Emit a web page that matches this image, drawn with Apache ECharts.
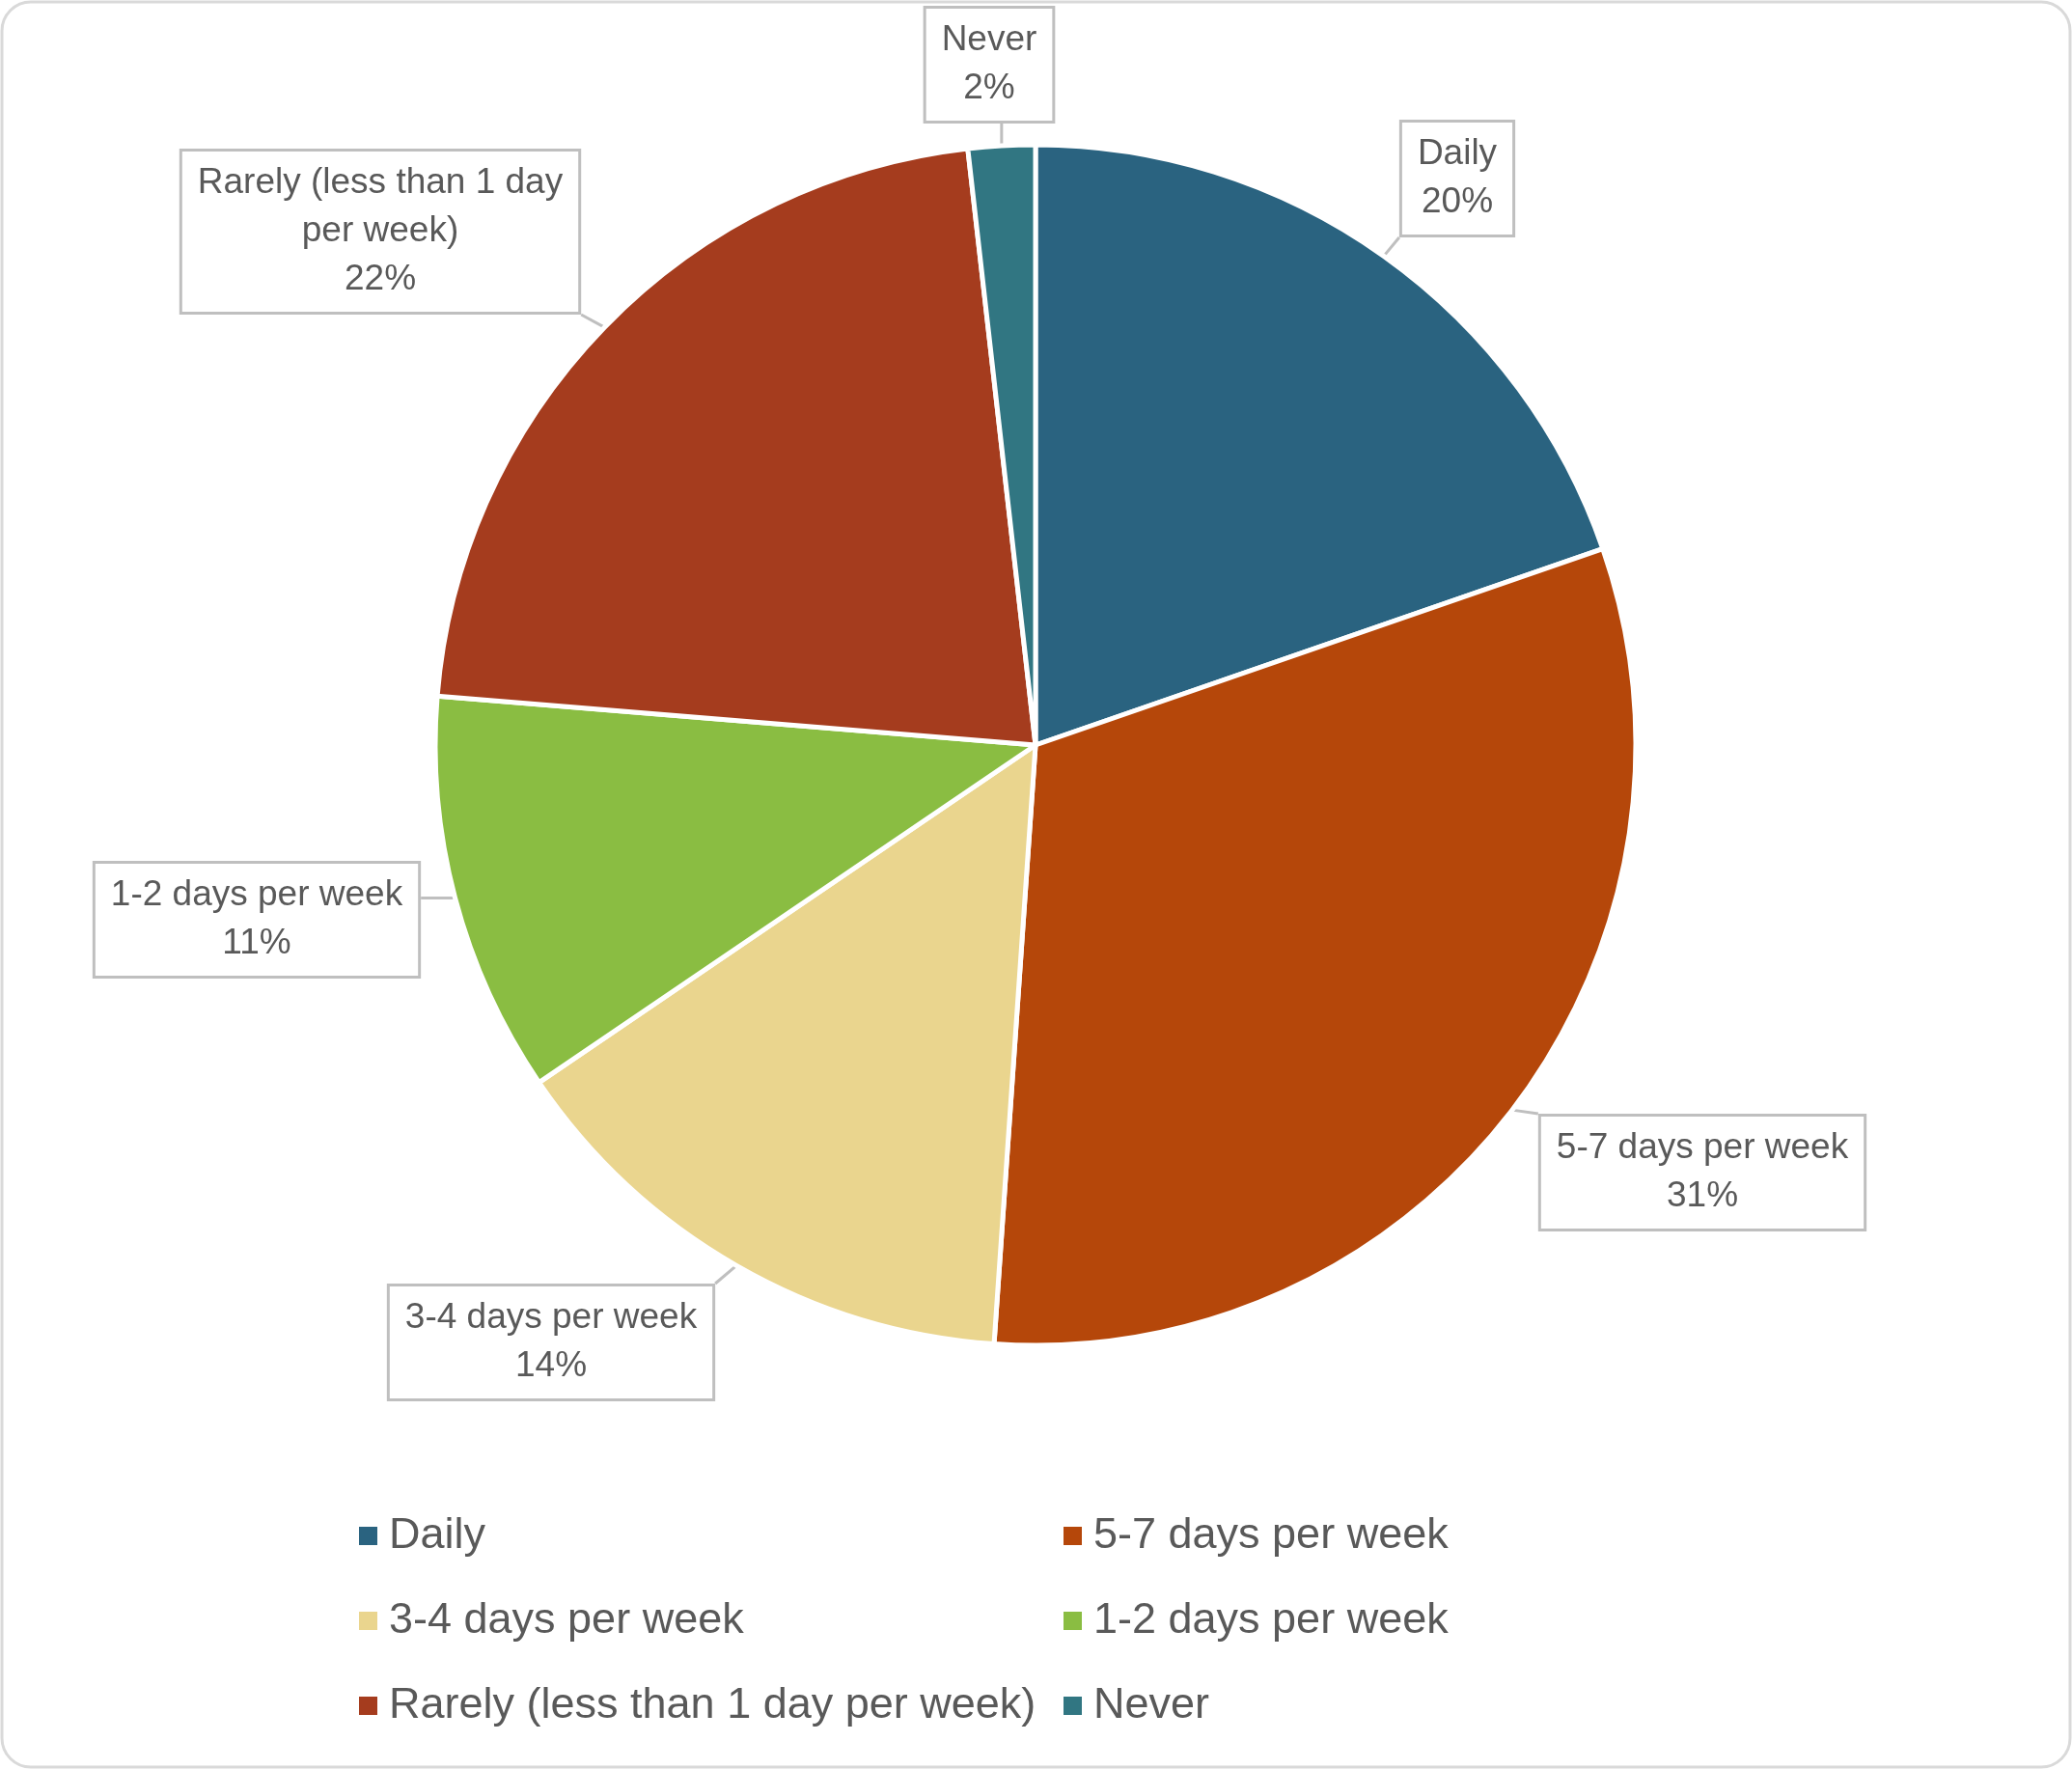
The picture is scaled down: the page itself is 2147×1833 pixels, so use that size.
<!DOCTYPE html>
<html>
<head>
<meta charset="utf-8">
<script src="https://cdn.jsdelivr.net/npm/echarts@6/dist/echarts.min.js"></script>
<style>
html,body{margin:0;padding:0;background:#fff;}
#chart{width:2147px;height:1833px;}
</style>
</head>
<body>
<div id="chart"></div>
<script>
// ---- data ----
const categories = ['Daily', '5-7 days per week', '3-4 days per week', '1-2 days per week', 'Rarely (less than 1 day per week)', 'Never'];
const shares = [19.7, 31.4, 14.4, 10.8, 21.9, 1.8];
const sliceColors = ['#2A6380', '#B5470A', '#EAD58E', '#8ABD42', '#A53C1E', '#317682'];

// ---- layout (label box centres) ----
const labelCentres = [[1510, 185], [1764, 1215], [571, 1391], [266, 953], [394, 240], [1025, 67]];

const FONT = "'Liberation Sans', Arial, sans-serif";

function wrapName(name, maxChars) {
  const words = name.split(' ');
  const lines = [];
  let cur = '';
  for (const w of words) {
    if (cur && (cur + ' ' + w).length > maxChars) { lines.push(cur); cur = w; }
    else cur = cur ? cur + ' ' + w : w;
  }
  if (cur) lines.push(cur);
  return lines.join('\n');
}

const chart = echarts.init(document.getElementById('chart'), null, {renderer: 'canvas'});
chart.setOption({
  backgroundColor: 'transparent',
  animation: false,
  graphic: [{
    type: 'rect', z: -10, silent: true,
    shape: {x: 2, y: 2, width: 2143, height: 1829, r: 30},
    style: {fill: '#ffffff', stroke: '#D9D9D9', lineWidth: 3}
  }],
  legend: {
    left: 365, top: 1551, width: 1500,
    orient: 'horizontal',
    icon: 'rect', itemWidth: 21, itemHeight: 21, itemGap: 17,
    data: categories,
    formatter: function (name) { return '{g|}{n|' + name + '}'; },
    textStyle: {
      color: '#595959', fontFamily: FONT, fontSize: 45, lineHeight: 71,
      rich: {
        g: {width: 6, lineHeight: 71},
        n: {width: 680, fontSize: 45, fontFamily: FONT, color: '#595959', lineHeight: 71, height: 71}
      }
    }
  },
  series: [{
    type: 'pie',
    center: [1073, 772],
    radius: 622,
    startAngle: 90,
    clockwise: true,
    avoidLabelOverlap: false,
    itemStyle: {borderColor: '#ffffff', borderWidth: 5},
    data: categories.map((c, i) => ({name: c, value: shares[i], itemStyle: {color: sliceColors[i]}})),
    label: {
      show: true,
      position: 'outside',
      formatter: function (p) { return wrapName(p.name, 24) + '\n' + Math.round(p.percent) + '%'; },
      color: '#595959', fontFamily: FONT, fontSize: 37, lineHeight: 50,
      align: 'center',
      backgroundColor: '#ffffff', borderColor: '#BFBFBF', borderWidth: 3,
      padding: [12, 16, 4, 16]
    },
    labelLine: {show: true, length: 20, length2: 20, lineStyle: {color: '#BFBFBF', width: 3}},
    labelLayout: function (params) {
      const c = labelCentres[params.dataIndex];
      const w = params.labelRect.width, h = params.labelRect.height;
      const tip = params.labelLinePoints ? params.labelLinePoints[0] : [c[0], c[1]];
      const x0 = c[0] - w / 2, x1 = c[0] + w / 2, y0 = c[1] - h / 2, y1 = c[1] + h / 2;
      const bx = Math.min(Math.max(tip[0], x0), x1);
      const by = Math.min(Math.max(tip[1], y0), y1);
      return {
        x: c[0], y: c[1], align: 'center', verticalAlign: 'middle',
        labelLinePoints: [tip, [bx, by], [bx, by]]
      };
    }
  }]
});
</script>
</body>
</html>
